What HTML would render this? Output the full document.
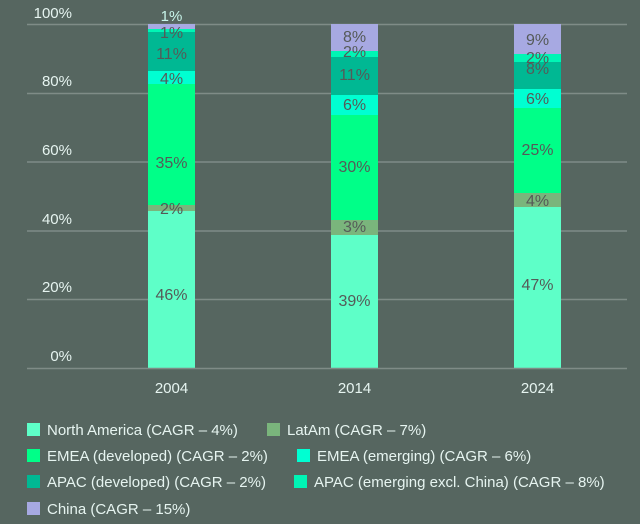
<!DOCTYPE html>
<html><head><meta charset="utf-8"><style>
html,body{margin:0;padding:0;background:#566660;}
svg{display:block;font-family:"Liberation Sans",sans-serif;}
</style></head><body>
<svg width="640" height="524" viewBox="0 0 640 524">
<rect width="640" height="524" fill="#566660"/>
<g stroke="#7f8c87" stroke-width="1.5">
<line x1="27" y1="24.5" x2="627" y2="24.5"/>
<line x1="27" y1="93.5" x2="627" y2="93.5"/>
<line x1="27" y1="162" x2="627" y2="162"/>
<line x1="27" y1="231" x2="627" y2="231"/>
<line x1="27" y1="299.5" x2="627" y2="299.5"/>
</g>
<g fill="#e6f4f0" font-size="15" text-anchor="end">
<text x="72" y="18">100%</text>
<text x="72" y="86">80%</text>
<text x="72" y="155">60%</text>
<text x="72" y="224">40%</text>
<text x="72" y="292">20%</text>
<text x="72" y="361">0%</text>
</g>
<g>
<rect x="148" y="211" width="47" height="157" fill="#5effc8"/>
<rect x="148" y="205" width="47" height="6" fill="#7ab57c"/>
<rect x="148" y="84" width="47" height="121" fill="#00ff88"/>
<rect x="148" y="71" width="47" height="13" fill="#00ffd2"/>
<rect x="148" y="32" width="47" height="39" fill="#00b893"/>
<rect x="148" y="29" width="47" height="3" fill="#00f5b5"/>
<rect x="148" y="24" width="47" height="5" fill="#a7a9e2"/>
</g>
<g>
<rect x="331" y="235" width="47" height="133" fill="#5effc8"/>
<rect x="331" y="220" width="47" height="15" fill="#7ab57c"/>
<rect x="331" y="115" width="47" height="105" fill="#00ff88"/>
<rect x="331" y="95" width="47" height="20" fill="#00ffd2"/>
<rect x="331" y="57" width="47" height="38" fill="#00b893"/>
<rect x="331" y="51" width="47" height="6" fill="#00f5b5"/>
<rect x="331" y="24" width="47" height="27" fill="#a7a9e2"/>
</g>
<g>
<rect x="514" y="207" width="47" height="161" fill="#5effc8"/>
<rect x="514" y="193" width="47" height="14" fill="#7ab57c"/>
<rect x="514" y="108" width="47" height="85" fill="#00ff88"/>
<rect x="514" y="89" width="47" height="19" fill="#00ffd2"/>
<rect x="514" y="62" width="47" height="27" fill="#00b893"/>
<rect x="514" y="54" width="47" height="8" fill="#00f5b5"/>
<rect x="514" y="24" width="47" height="30" fill="#a7a9e2"/>
</g>
<line x1="27" y1="368.5" x2="627" y2="368.5" stroke="#7f8c87" stroke-width="1.5"/>
<g fill="#555a58" font-size="16" text-anchor="middle">
<text x="171.5" y="300">46%</text>
<text x="171.5" y="214">2%</text>
<text x="171.5" y="168">35%</text>
<text x="171.5" y="84">4%</text>
<text x="171.5" y="59">11%</text>
<text x="171.5" y="38">1%</text>
<text x="354.5" y="306">39%</text>
<text x="354.5" y="232">3%</text>
<text x="354.5" y="172">30%</text>
<text x="354.5" y="110">6%</text>
<text x="354.5" y="80">11%</text>
<text x="354.5" y="57">2%</text>
<text x="354.5" y="42">8%</text>
<text x="537.5" y="290">47%</text>
<text x="537.5" y="206">4%</text>
<text x="537.5" y="155">25%</text>
<text x="537.5" y="104">6%</text>
<text x="537.5" y="74">8%</text>
<text x="537.5" y="63">2%</text>
<text x="537.5" y="45">9%</text>
</g>
<text x="171.5" y="21" fill="#c8f5ea" font-size="15" text-anchor="middle">1%</text>
<g fill="#e6f4f0" font-size="15" text-anchor="middle">
<text x="171.5" y="393">2004</text>
<text x="354.5" y="393">2014</text>
<text x="537.5" y="393">2024</text>
</g>
<g font-size="15" fill="#e6f4f0">
<rect x="27" y="423" width="13" height="13" fill="#5effc8"/><text x="47" y="435">North America (CAGR – 4%)</text>
<rect x="267" y="423" width="13" height="13" fill="#7ab57c"/><text x="287" y="435">LatAm (CAGR – 7%)</text>
<rect x="27" y="449" width="13" height="13" fill="#00ff88"/><text x="47" y="461">EMEA (developed) (CAGR – 2%)</text>
<rect x="297" y="449" width="13" height="13" fill="#00ffd2"/><text x="317" y="461">EMEA (emerging) (CAGR – 6%)</text>
<rect x="27" y="475" width="13" height="13" fill="#00b893"/><text x="47" y="487">APAC (developed) (CAGR – 2%)</text>
<rect x="294" y="475" width="13" height="13" fill="#00f5b5"/><text x="314" y="487">APAC (emerging excl. China) (CAGR – 8%)</text>
<rect x="27" y="502" width="13" height="13" fill="#a7a9e2"/><text x="47" y="514">China (CAGR – 15%)</text>
</g>
</svg>
</body></html>
